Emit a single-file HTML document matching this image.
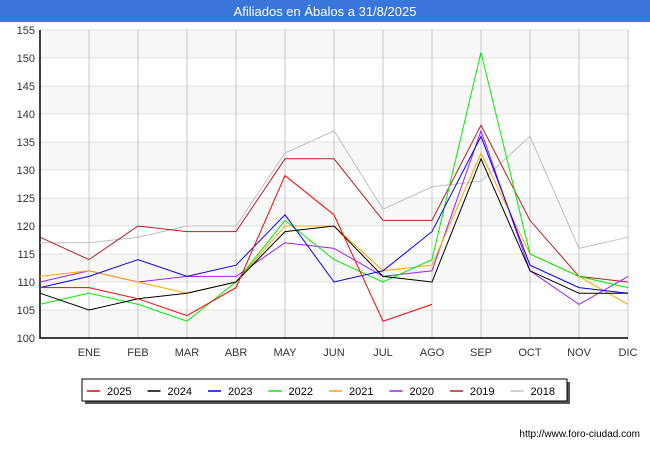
<!DOCTYPE html>
<html><head><meta charset="utf-8"><style>
body{margin:0;width:650px;height:450px;background:#fff;font-family:"Liberation Sans",sans-serif;overflow:hidden}
#title{position:absolute;left:0;top:0;width:650px;height:22px;background:#3a75d9;color:#fff;font-size:13px;text-align:center;line-height:23px}
</style></head><body>
<div id="title">Afiliados en Ábalos a 31/8/2025</div>
<svg id="chart" width="650" height="450" style="position:absolute;left:0;top:0"></svg>
<script>
const months=["","ENE","FEB","MAR","ABR","MAY","JUN","JUL","AGO","SEP","OCT","NOV","DIC"];
const yTicks=[100,105,110,115,120,125,130,135,140,145,150,155];
const seriesNames=["2025","2024","2023","2022","2021","2020","2019","2018"];
const seriesColors=["#ff0000","#000000","#0000ff","#00ee00","#ffa500","#a020f0","#b22222","#c0c0c0"];
const s2025=[109,109,107,104,109,129,122,103,106];
const s2024=[108,105,107,108,110,119,120,111,110,132,112,108,108];
const s2023=[109,111,114,111,113,122,110,112,119,136,113,109,108];
const s2022=[106,108,106,103,110,121,114,110,114,151,115,111,109];
const s2021=[111,112,110,108,110,120,120,112,113,133,115,111,106];
const s2020=[110,112,110,111,111,117,116,111,112,137,112,106,111];
const s2019=[118,114,120,119,119,132,132,121,121,138,121,111,110];
const s2018=[117,117,118,120,120,133,137,123,127,128,136,116,118];
const allSeries=[s2025,s2024,s2023,s2022,s2021,s2020,s2019,s2018];
const X0=40,X1=628,Y0=338,Y1=30,ymin=100,ymax=155;
const xs=i=>X0+i*(X1-X0)/12;
const ys=v=>Y0-(v-ymin)*(Y0-Y1)/(ymax-ymin);
const svg=document.getElementById('chart');
const NS="http://www.w3.org/2000/svg";
function mk(t,a){const e=document.createElementNS(NS,t);for(const k in a)e.setAttribute(k,a[k]);svg.appendChild(e);return e;}
for(let i=0;i<yTicks.length-1;i++){
 if(i%2==0){const r=mk('rect',{x:X0,y:ys(yTicks[i+1]),width:X1-X0,height:ys(yTicks[i])-ys(yTicks[i+1]),fill:'#f8f8f8'});
 
 }
}
yTicks.forEach(v=>{
 const l=mk('line',{x1:X0,x2:X1,y1:ys(v),y2:ys(v),stroke:'#e0e0e0'});
 
 
 const t=mk('text',{x:X0-5,y:ys(v)+4,'text-anchor':'end','font-size':11,fill:'#333'});
 t.textContent=v;
 
 
});
months.forEach((m,i)=>{
 if(i>0){const l=mk('line',{x1:xs(i),x2:xs(i),y1:Y1,y2:Y0,stroke:'#c8c8c8'});
 
 }
 const t=mk('text',{x:xs(i),y:356,'text-anchor':'middle','font-size':11,fill:'#333'});
 t.textContent=m;
 
 
});
const ax=mk('polyline',{points:`${X0},${Y1} ${X0},${Y0} ${X1},${Y0}`,fill:'none',stroke:'#000','stroke-width':1.5});


for(let s=allSeries.length-1;s>=0;s--){
 const p=mk('polyline',{points:allSeries[s].map((v,i)=>xs(i)+','+ys(v)).join(' '),fill:'none',stroke:seriesColors[s],'stroke-width':1});
 
 
}
const sh=mk('rect',{x:85,y:382,width:485,height:22,fill:'#555'});


const lb=mk('rect',{x:82,y:379,width:485,height:22,fill:'#fff',stroke:'#000'});


seriesNames.forEach((n,i)=>{
 const x=87+i*60.5;
 const l=mk('line',{x1:x,x2:x+13,y1:391,y2:391,stroke:seriesColors[i],'stroke-width':1.5});
 
 
 const t=mk('text',{x:x+20,y:395,'font-size':11,fill:'#000'});
 t.textContent=n;
 
 
});
const u=mk('text',{x:640,y:437,'text-anchor':'end','font-size':10,fill:'#000'});
u.textContent='http://www.foro-ciudad.com';


</script>
</body></html>
